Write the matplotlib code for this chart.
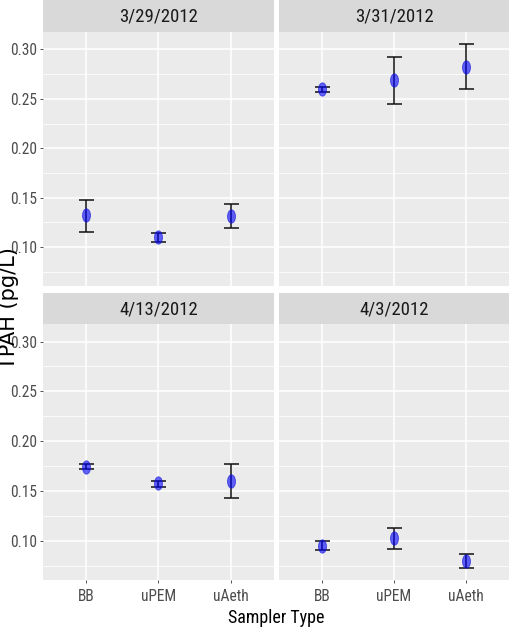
import matplotlib
matplotlib.use("Agg")
import matplotlib.pyplot as plt
from matplotlib import font_manager as fm
from matplotlib.path import Path
from matplotlib.transforms import Affine2D

# ---- data ----
panels = ["3/29/2012", "3/31/2012", "4/13/2012", "4/3/2012"]
categories = ["BB", "uPEM", "uAeth"]
means = {
    "3/29/2012": [0.1323, 0.1098, 0.1313],
    "3/31/2012": [0.2596, 0.2687, 0.2822],
    "4/13/2012": [0.1739, 0.1575, 0.1599],
    "4/3/2012":  [0.0950, 0.1027, 0.0800],
}
upper = {
    "3/29/2012": [0.1478, 0.1145, 0.1437],
    "3/31/2012": [0.2623, 0.2922, 0.3060],
    "4/13/2012": [0.1770, 0.1599, 0.1770],
    "4/3/2012":  [0.0993, 0.1127, 0.0870],
}
lower = {
    "3/29/2012": [0.1155, 0.1054, 0.1189],
    "3/31/2012": [0.2573, 0.2451, 0.2600],
    "4/13/2012": [0.1720, 0.1539, 0.1429],
    "4/3/2012":  [0.0903, 0.0917, 0.0722],
}
yticks = [0.10, 0.15, 0.20, 0.25, 0.30]
ytick_labels = ["0.10", "0.15", "0.20", "0.25", "0.30"]
yminor = [0.075, 0.125, 0.175, 0.225, 0.275]
xlabel = "Sampler Type"
ylabel = "TPAH (pg/L)"

# ---- fonts ----
names = {f.name for f in fm.fontManager.ttflist}
NARROW = None
for cand in ["Liberation Sans Narrow", "Arial Narrow", "Roboto Condensed",
             "Archivo Narrow", "Open Sans Condensed", "Barlow Condensed"]:
    if cand in names:
        NARROW = dict(family=cand)
        break
scale = 1.0
if NARROW is None:
    NARROW = dict(family="Liberation Sans")
    scale = 0.85

W, H = 510, 631
fig = plt.figure(figsize=(W / 100, H / 100), dpi=100)

def px_axes(x0, y0, x1, y1):
    return fig.add_axes([x0 / W, 1 - y1 / H, (x1 - x0) / W, (y1 - y0) / H])

cols = [(43, 274), (279, 509)]
rows = [((0, 32), (32, 286)), ((293, 324), (324, 580))]

ell = Path.unit_circle().transformed(Affine2D().scale(0.6, 1.0))

# ylim from data with 5% expansion
allv = [v for d in (upper, lower) for k in d for v in d[k]]
lo, hi = min(allv), max(allv)
pad = (hi - lo) * 0.05
ylim = (lo - pad, hi + pad)

for i, name in enumerate(panels):
    r, c = divmod(i, 2)
    (sy0, sy1), (py0, py1) = rows[r]
    x0, x1 = cols[c]
    # strip
    sax = px_axes(x0, sy0, x1, sy1)
    sax.set_facecolor("#D9D9D9")
    sax.set_xticks([]); sax.set_yticks([])
    for s in sax.spines.values():
        s.set_visible(False)
    sax.text(0.5, 0.48, name, transform=sax.transAxes, ha="center", va="center",
             fontsize=13.5 * scale, color="#1A1A1A", **NARROW)
    # panel
    ax = px_axes(x0, py0, x1, py1)
    ax.set_facecolor("#EBEBEB")
    for s in ax.spines.values():
        s.set_visible(False)
    xs = list(range(1, len(categories) + 1))
    ax.set_xlim(0.4, 3.6)
    ax.set_ylim(*ylim)
    ax.set_yticks(yticks)
    ax.set_yticks(yminor, minor=True)
    ax.set_xticks(xs)
    ax.grid(True, which="major", color="white", linewidth=1.1)
    ax.grid(True, which="minor", axis="y", color="white", linewidth=0.55)
    ax.set_axisbelow(True)
    ax.tick_params(which="minor", length=0)
    ax.tick_params(axis="both", which="major", colors="#333333", length=2.5, width=0.6,
                   labelcolor="#4D4D4D", labelsize=11.2 * scale, pad=1.5)
    if c == 0:
        ax.set_yticklabels(ytick_labels, **NARROW)
    else:
        ax.tick_params(axis="y", length=0, labelleft=False)
    if r == 1:
        ax.set_xticklabels(categories, **NARROW)
        ax.tick_params(axis="x", pad=4)
    else:
        ax.tick_params(axis="x", length=0, labelbottom=False)
    m = means[name]
    yerr = [[m[j] - lower[name][j] for j in range(3)],
            [upper[name][j] - m[j] for j in range(3)]]
    ax.errorbar(xs, m, yerr=yerr, fmt="none", ecolor="#111111", elinewidth=1.1,
                capsize=5.4, capthick=1.1, zorder=3)
    ax.plot(xs, m, linestyle="none", marker=ell, markersize=9.6,
            markerfacecolor=(0, 0, 1, 0.6), markeredgecolor=(0.1, 0.1, 0.85, 0.7),
            markeredgewidth=0.6, zorder=4)

fig.text(276.5 / W, 1 - 618 / H, xlabel, ha="center", va="center",
         fontsize=13 * scale, color="black", **NARROW)
fig.text(9 / W, 1 - 308 / H, ylabel, ha="center", va="center", rotation=90,
         fontsize=15, color="black", family="DejaVu Sans")

fig.savefig("out.png", dpi=100, facecolor="white")
